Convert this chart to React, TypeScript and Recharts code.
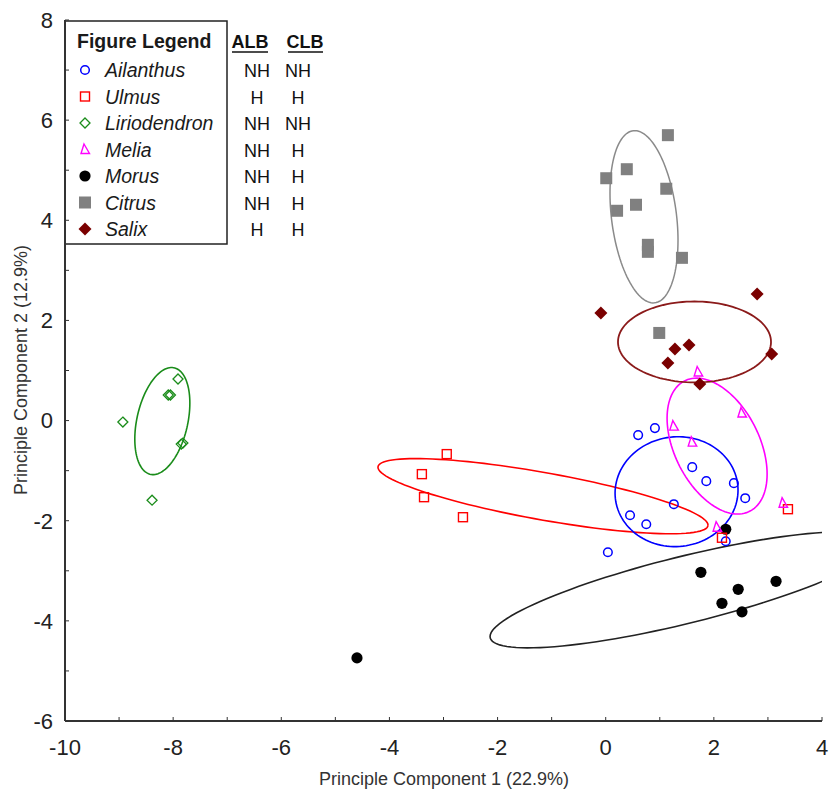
import React from "react";
import { ScatterChart, Scatter, XAxis, YAxis, Customized } from "recharts";

const X_TICKS = [-10, -9, -8, -7, -6, -5, -4, -3, -2, -1, 0, 1, 2, 3, 4];
const Y_TICKS = [-6, -5, -4, -3, -2, -1, 0, 1, 2, 3, 4, 5, 6, 7, 8];

const AILANTHUS = [
  { x: 0.6, y: -0.29 }, { x: 0.91, y: -0.15 }, { x: 1.6, y: -0.93 },
  { x: 1.86, y: -1.21 }, { x: 2.37, y: -1.25 }, { x: 2.58, y: -1.55 },
  { x: 1.26, y: -1.67 }, { x: 0.45, y: -1.89 }, { x: 0.75, y: -2.07 },
  { x: 0.04, y: -2.63 }, { x: 2.22, y: -2.41 },
];
const ULMUS = [
  { x: -2.94, y: -0.67 }, { x: -3.4, y: -1.07 }, { x: -3.36, y: -1.53 },
  { x: -2.64, y: -1.93 }, { x: 2.15, y: -2.34 }, { x: 3.37, y: -1.77 },
];
const LIRIODENDRON = [
  { x: -8.93, y: -0.03 }, { x: -8.39, y: -1.59 }, { x: -8.09, y: 0.51 },
  { x: -8.05, y: 0.51 }, { x: -7.91, y: 0.83 }, { x: -7.85, y: -0.47 },
  { x: -7.82, y: -0.45 },
];
const MELIA = [
  { x: 1.71, y: 0.97 }, { x: 2.52, y: 0.15 }, { x: 1.26, y: -0.11 },
  { x: 1.6, y: -0.43 }, { x: 2.06, y: -2.13 }, { x: 3.28, y: -1.65 },
];
const MORUS = [
  { x: 2.22, y: -2.17 }, { x: 1.76, y: -3.03 }, { x: 3.15, y: -3.21 },
  { x: 2.45, y: -3.37 }, { x: 2.15, y: -3.65 }, { x: 2.52, y: -3.82 },
  { x: -4.6, y: -4.74 },
];
const CITRUS = [
  { x: 1.15, y: 5.7 }, { x: 0.39, y: 5.02 }, { x: 0.01, y: 4.84 },
  { x: 1.12, y: 4.63 }, { x: 0.56, y: 4.31 }, { x: 0.21, y: 4.19 },
  { x: 0.78, y: 3.51 }, { x: 0.78, y: 3.37 }, { x: 1.41, y: 3.25 },
  { x: 0.99, y: 1.75 },
];
const SALIX = [
  { x: 2.8, y: 2.53 }, { x: -0.09, y: 2.15 }, { x: 3.07, y: 1.33 },
  { x: 1.28, y: 1.43 }, { x: 1.54, y: 1.51 }, { x: 1.15, y: 1.15 },
  { x: 1.74, y: 0.73 },
];

// confidence ellipses: centre x, centre y, then two conjugate semi-diameters (ux, uy, vx, vy)
const AILANTHUS_ELLIPSE = [1.31, -1.42, 1.137, 0.03, 0, -1.097];
const ULMUS_ELLIPSE = [-1.16, -1.51, 3.052, -0.578, 0, -0.479];
const LIRIODENDRON_ELLIPSE = [-8.2, -0.01, 0.509, 0.359, 0, -1.007];
const MELIA_ELLIPSE = [2.06, -0.51, 0.925, -0.558, 0, -1.237];
const MORUS_ELLIPSE = [1.467, -3.38, 3.606, 0.933, 0, -0.688];
const CITRUS_ELLIPSE = [0.708, 4.07, 0.629, -0.469, 0, 1.655];
const SALIX_ELLIPSE = [1.642, 1.57, 1.415, 0, 0, 0.808];

const LEGEND_NAMES = ["Ailanthus", "Ulmus", "Liriodendron", "Melia", "Morus", "Citrus", "Salix"];
const ALB = ["NH", "H", "NH", "NH", "NH", "NH", "H"];
const CLB = ["NH", "H", "NH", "H", "H", "H", "H"];

const BLUE = "#0000ff";
const RED = "#ff0000";
const GREEN = "#1a8c1a";
const MAGENTA = "#ff00ff";
const BLACK = "#000000";
const GREY = "#808080";
const MAROON = "#7a0000";

const FONT = "'Liberation Sans', Arial, sans-serif";

const outline = (e: number[]) => {
  const [cx, cy, ux, uy, vx, vy] = e;
  const pts: { x: number; y: number }[] = [];
  const n = 120;
  for (let i = 0; i <= n; i++) {
    const t = (i / n) * Math.PI * 2;
    pts.push({
      x: cx + Math.cos(t) * ux + Math.sin(t) * vx,
      y: cy + Math.cos(t) * uy + Math.sin(t) * vy,
    });
  }
  return pts;
};

const drawMarker = (kind: string, cx: number, cy: number, key?: string) => {
  switch (kind) {
    case "openCircle":
      return <circle key={key} cx={cx} cy={cy} r={4.3} fill="none" stroke={BLUE} strokeWidth={1.5} />;
    case "openSquare":
      return <rect key={key} x={cx - 4.5} y={cy - 4.5} width={9} height={9} fill="none" stroke={RED} strokeWidth={1.4} />;
    case "openDiamond":
      return (
        <polygon key={key} points={`${cx},${cy - 5} ${cx + 5},${cy} ${cx},${cy + 5} ${cx - 5},${cy}`}
          fill="none" stroke={GREEN} strokeWidth={1.3} />
      );
    case "openTriangle":
      return (
        <polygon key={key} points={`${cx - 1},${cy - 5.5} ${cx + 4.5},${cy + 4} ${cx - 4},${cy + 4}`}
          fill="none" stroke={MAGENTA} strokeWidth={1.4} />
      );
    case "dot":
      return <circle key={key} cx={cx} cy={cy} r={5.6} fill={BLACK} />;
    case "square":
      return <rect key={key} x={cx - 6} y={cy - 6} width={12} height={12} fill={GREY} />;
    case "diamond":
      return (
        <polygon key={key} points={`${cx},${cy - 6.5} ${cx + 6.5},${cy} ${cx},${cy + 6.5} ${cx - 6.5},${cy}`}
          fill={MAROON} />
      );
    default:
      return <g key={key} />;
  }
};

const shapeOf = (kind: string) => (p: any) => drawMarker(kind, p.cx, p.cy);
const noShape = () => <g />;

const LEGEND_KINDS = ["openCircle", "openSquare", "openDiamond", "openTriangle", "dot", "square", "diamond"];

const LegendBox = () => (
  <g fontFamily={FONT}>
    <rect x={65} y={21} width={162} height={223} fill="#fff" stroke="#222" strokeWidth={1.5} />
    <text x={77} y={48} fontSize={19.5} fontWeight="bold" fill="#1a1a1a">Figure Legend</text>
    {LEGEND_NAMES.map((name, i) => {
      const base = 77 + i * 26.5;
      return (
        <g key={name}>
          {drawMarker(LEGEND_KINDS[i], 85, base - 7)}
          <text x={105} y={base} fontSize={19.5} fontStyle="italic" fill="#1a1a1a">{name}</text>
          <text x={257} y={base} fontSize={18} textAnchor="middle" fill="#111">{ALB[i]}</text>
          <text x={298} y={base} fontSize={18} textAnchor="middle" fill="#111">{CLB[i]}</text>
        </g>
      );
    })}
    <text x={250} y={48} fontSize={18} fontWeight="bold" textAnchor="middle" fill="#111">ALB</text>
    <line x1={232} x2={268} y1={52} y2={52} stroke="#111" strokeWidth={1.5} />
    <text x={305} y={48} fontSize={18} fontWeight="bold" textAnchor="middle" fill="#111">CLB</text>
    <line x1={288} x2={323} y1={52} y2={52} stroke="#111" strokeWidth={1.5} />
    <text x={444} y={785} fontSize={18} textAnchor="middle" fill="#333">Principle Component 1 (22.9%)</text>
    <text x={27} y={370} fontSize={18} textAnchor="middle" fill="#333" transform="rotate(-90 27 370)">
      Principle Component 2 (12.9%)
    </text>
  </g>
);

const evenOnly = (v: number) => (v % 2 === 0 ? String(v) : "");
const AXIS_LINE = { stroke: "#333", strokeWidth: 2 };
const TICK_LINE = { stroke: "#333", strokeWidth: 1 };
const TICK_STYLE = { fill: "#222", fontSize: 22, fontFamily: FONT };

export default function App() {
  return (
    <div style={{ position: "absolute", left: 0, top: 0, width: 829, height: 799, background: "#fff" }}>
      <ScatterChart width={829} height={799} margin={{ top: 20, right: 7, bottom: 18, left: 10 }}>
        <XAxis type="number" dataKey="x" domain={[-10, 4]} ticks={X_TICKS} interval={0} allowDataOverflow
          height={60} tickSize={-4} tickMargin={22} tickFormatter={evenOnly}
          axisLine={AXIS_LINE} tickLine={TICK_LINE} tick={TICK_STYLE} />
        <XAxis xAxisId="top" orientation="top" type="number" dataKey="x" domain={[-10, 4]} ticks={X_TICKS}
          interval={0} allowDataOverflow height={0} tickSize={-4} tick={false}
          axisLine={AXIS_LINE} tickLine={TICK_LINE} />
        <YAxis type="number" dataKey="y" domain={[-6, 8]} ticks={Y_TICKS} interval={0} allowDataOverflow
          width={55} tickSize={-4} tickMargin={16} tickFormatter={evenOnly}
          axisLine={AXIS_LINE} tickLine={TICK_LINE} tick={TICK_STYLE} />
        <YAxis yAxisId="right" orientation="right" type="number" dataKey="y" domain={[-6, 8]} ticks={Y_TICKS}
          interval={0} allowDataOverflow width={0} tickSize={-4} tick={false}
          axisLine={AXIS_LINE} tickLine={TICK_LINE} />

        <Scatter name="Morus ellipse" data={outline(MORUS_ELLIPSE)} line={{ stroke: "#222", strokeWidth: 1.6 }} shape={noShape} isAnimationActive={false} />
        <Scatter name="Ulmus ellipse" data={outline(ULMUS_ELLIPSE)} line={{ stroke: RED, strokeWidth: 1.6 }} shape={noShape} isAnimationActive={false} />
        <Scatter name="Ailanthus ellipse" data={outline(AILANTHUS_ELLIPSE)} line={{ stroke: BLUE, strokeWidth: 1.6 }} shape={noShape} isAnimationActive={false} />
        <Scatter name="Melia ellipse" data={outline(MELIA_ELLIPSE)} line={{ stroke: MAGENTA, strokeWidth: 1.6 }} shape={noShape} isAnimationActive={false} />
        <Scatter name="Salix ellipse" data={outline(SALIX_ELLIPSE)} line={{ stroke: "#8b1a1a", strokeWidth: 1.8 }} shape={noShape} isAnimationActive={false} />
        <Scatter name="Citrus ellipse" data={outline(CITRUS_ELLIPSE)} line={{ stroke: "#8a8a8a", strokeWidth: 1.5 }} shape={noShape} isAnimationActive={false} />
        <Scatter name="Liriodendron ellipse" data={outline(LIRIODENDRON_ELLIPSE)} line={{ stroke: GREEN, strokeWidth: 1.6 }} shape={noShape} isAnimationActive={false} />

        <Scatter name="Citrus" data={CITRUS} shape={shapeOf("square")} isAnimationActive={false} />
        <Scatter name="Salix" data={SALIX} shape={shapeOf("diamond")} isAnimationActive={false} />
        <Scatter name="Morus" data={MORUS} shape={shapeOf("dot")} isAnimationActive={false} />
        <Scatter name="Ailanthus" data={AILANTHUS} shape={shapeOf("openCircle")} isAnimationActive={false} />
        <Scatter name="Ulmus" data={ULMUS} shape={shapeOf("openSquare")} isAnimationActive={false} />
        <Scatter name="Melia" data={MELIA} shape={shapeOf("openTriangle")} isAnimationActive={false} />
        <Scatter name="Liriodendron" data={LIRIODENDRON} shape={shapeOf("openDiamond")} isAnimationActive={false} />

        <Customized component={LegendBox} />
      </ScatterChart>
    </div>
  );
}
